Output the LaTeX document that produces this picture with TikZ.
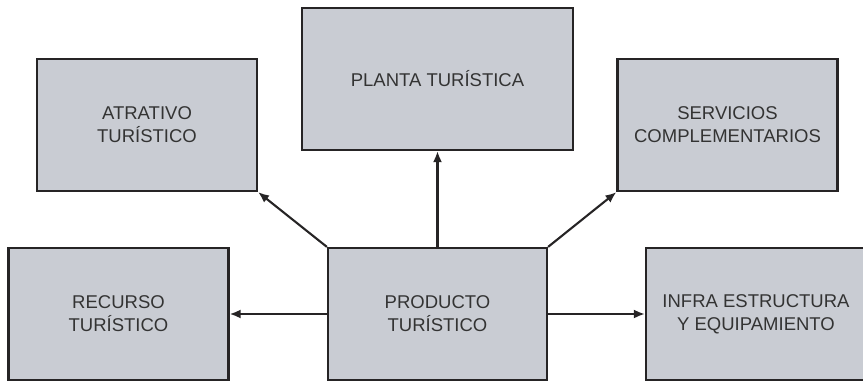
\documentclass[tikz,border=0pt]{standalone}
\usepackage{fontspec}
\setmainfont{Liberation Sans}
\usetikzlibrary{arrows.meta}
\definecolor{boxgray}{HTML}{C9CCD3}
\definecolor{linegray}{HTML}{262425}
\definecolor{textgray}{HTML}{333333}
\tikzset{
  box/.style={draw=linegray,fill=boxgray,line width=2.2pt,align=center,
    text=textgray,font=\fontsize{18.5}{23}\selectfont,
    minimum width=220pt,minimum height=132pt,inner sep=0pt},
  link/.style={draw=linegray,line width=2.1pt,-{Latex[length=11pt,width=9pt]}}
}
\begin{document}
\begin{tikzpicture}[x=1pt,y=-1pt]
\useasboundingbox (0,0) rectangle (863,381);
\node[box] (atrativo) at (147,125) {ATRATIVO\\TURÍSTICO};
\node[box,minimum width=271pt,minimum height=142pt] (planta) at (437.5,79) {PLANTA TURÍSTICA};
\node[box] (servicios) at (727.5,125) {SERVICIOS\\COMPLEMENTARIOS};
\node[box] (recurso) at (118.5,314) {RECURSO\\TURÍSTICO};
\node[box,minimum width=219pt] (producto) at (437.5,314) {PRODUCTO\\TURÍSTICO};
\node[box] (infra) at (756,314) {INFRA ESTRUCTURA\\Y EQUIPAMIENTO};
\draw[link] (producto.north west) -- (atrativo.south east);
\draw[link] (producto.north) -- (planta.south);
\draw[link] (producto.north east) -- (servicios.south west);
\draw[link] (producto.west) -- (recurso.east);
\draw[link] (producto.east) -- (infra.west);
\end{tikzpicture}
\end{document}
